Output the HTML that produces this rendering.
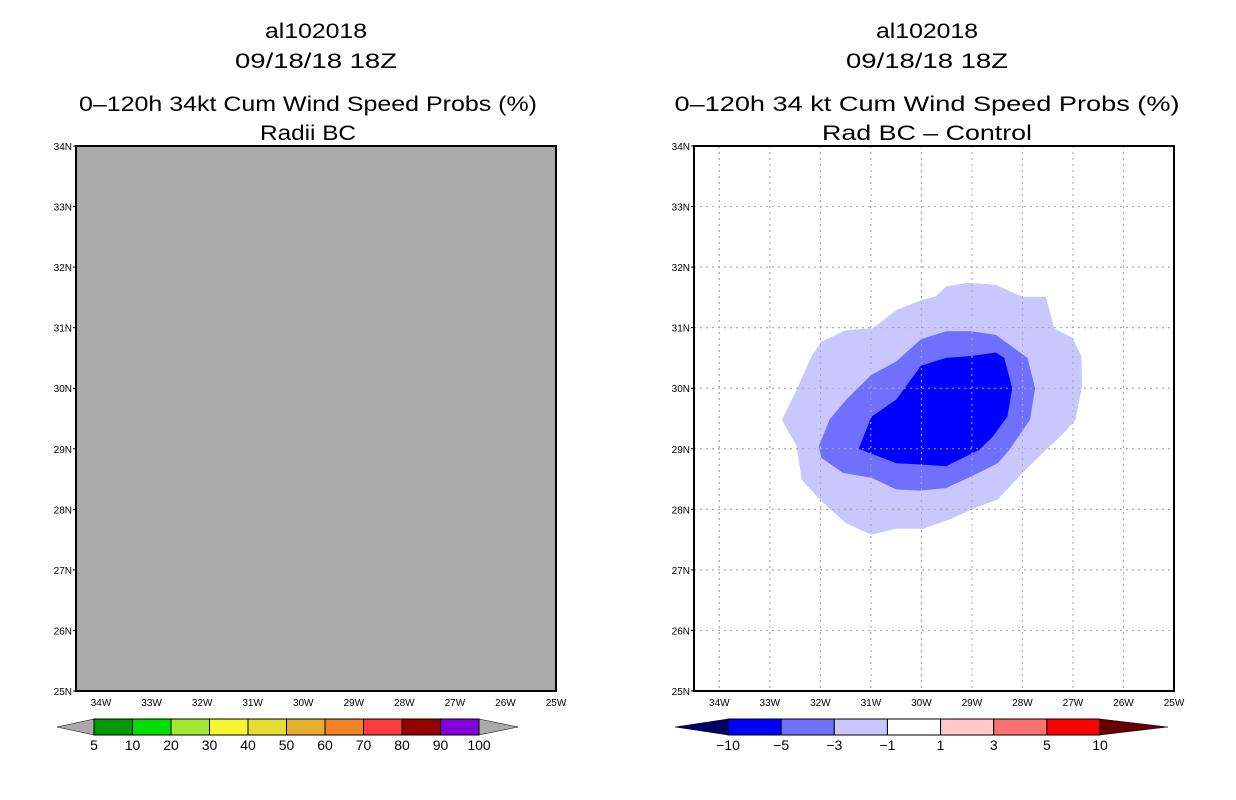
<!DOCTYPE html>
<html><head><meta charset="utf-8"><style>
html,body{margin:0;padding:0;background:#fff;}
svg{display:block;font-family:"Liberation Sans",sans-serif;}
</style></head><body>
<svg id="chart" width="1236" height="800" viewBox="0 0 1236 800">
<g font-size="21" text-anchor="middle" fill="#000">
<text x="316" y="38" textLength="102" lengthAdjust="spacingAndGlyphs">al102018</text>
<text x="316" y="68" textLength="162" lengthAdjust="spacingAndGlyphs">09/18/18 18Z</text>
<text x="308" y="111" textLength="458" lengthAdjust="spacingAndGlyphs">0–120h 34kt Cum Wind Speed Probs (%)</text>
<text x="308" y="140" textLength="96" lengthAdjust="spacingAndGlyphs">Radii BC</text>
</g>
<g font-size="21" text-anchor="middle" fill="#000">
<text x="927" y="38" textLength="102" lengthAdjust="spacingAndGlyphs">al102018</text>
<text x="927" y="68" textLength="162" lengthAdjust="spacingAndGlyphs">09/18/18 18Z</text>
<text x="927" y="111" textLength="505" lengthAdjust="spacingAndGlyphs">0–120h 34 kt Cum Wind Speed Probs (%)</text>
<text x="927" y="140" textLength="210" lengthAdjust="spacingAndGlyphs">Rad BC – Control</text>
</g>
<g id="left"></g>
<g id="right"></g>
<g id="cbL"></g>
<g id="cbR"></g>
</svg>
<script>
const latTicks=[34,33,32,31,30,29,28,27,26,25];
const lonTicks=[34,33,32,31,30,29,28,27,26,25];
const leftLevels=['5','10','20','30','40','50','60','70','80','90','100'];
const leftColors=['#009900','#00dd00','#a0e632','#f5f532','#e6dc32','#e6af2d','#f08228','#fa3c3c','#960000','#8200dc'];
const rightLevels=['−10','−5','−3','−1','1','3','5','10'];
const rightColors=['#0000ff','#7070ff','#c8c8ff','#ffffff','#ffc8c8','#ff7070','#ff0000'];
const outerLon=[32.76,32.47,32.18,31.98,31.49,30.96,30.50,29.97,29.71,29.51,29.09,28.53,28.00,27.54,27.37,27.01,26.83,26.82,26.95,27.18,27.54,28.00,28.49,28.86,29.45,29.97,30.50,30.99,31.49,32.01,32.37,32.47];
const outerLat=[29.48,29.97,30.52,30.77,30.96,30.99,31.29,31.46,31.52,31.68,31.74,31.71,31.51,31.51,30.99,30.83,30.52,30.03,29.48,29.26,28.98,28.60,28.16,28.05,27.83,27.68,27.68,27.58,27.77,28.16,28.49,29.04];
const midLon=[32.03,31.82,31.49,30.99,30.50,30.01,29.51,29.02,28.53,28.26,27.90,27.75,27.85,28.26,28.49,29.02,29.51,30.04,30.50,30.99,31.55,31.98];
const midLat=[29.04,29.48,29.81,30.22,30.44,30.81,30.94,30.94,30.88,30.72,30.50,30.00,29.48,28.98,28.76,28.54,28.35,28.31,28.33,28.52,28.60,28.85];
const innerLon=[31.24,30.99,30.50,30.01,29.51,29.02,28.53,28.36,28.20,28.30,28.59,28.86,29.51,30.01,30.50];
const innerLat=[29.00,29.53,29.81,30.37,30.50,30.53,30.59,30.50,30.00,29.53,29.20,28.98,28.71,28.74,28.76];

const NS='http://www.w3.org/2000/svg';
function mk(tag,attrs,parent){const e=document.createElementNS(NS,tag);for(const k in attrs)e.setAttribute(k,attrs[k]);parent.appendChild(e);return e;}
const Y0=146,Y1=691;
function yScale(lat){return Y0+(34-lat)*(Y1-Y0)/9;}
function makeX(x34,x25){return lon=>x34+(34-lon)*(x25-x34)/9;}

function panel(g,left,right,x34,fill,grid){
  const xs=makeX(x34,right);
  const bg=mk('rect',{x:left,y:Y0,width:right-left,height:Y1-Y0,fill:fill},g);
  
  
  if(grid){
    latTicks.forEach(l=>{if(l===34||l===25)return;const ln=mk('line',{x1:left,x2:right,y1:yScale(l),y2:yScale(l),stroke:'#aaa','stroke-dasharray':'2,4'},g);
      
      });
    lonTicks.forEach(l=>{if(l===25)return;const ln=mk('line',{x1:xs(l),x2:xs(l),y1:Y0,y2:Y1,stroke:'#aaa','stroke-dasharray':'2,4'},g);
      
      });
  }
  latTicks.forEach(l=>{const t=mk('text',{x:left-4,y:yScale(l)+4,'font-size':10,'text-anchor':'end'},g);t.textContent=l+'N';
    
    
    mk('line',{x1:left-3,x2:left,y1:yScale(l),y2:yScale(l),stroke:'#000'},g);});
  lonTicks.forEach(l=>{const t=mk('text',{x:xs(l),y:706,'font-size':10,'text-anchor':'middle'},g);t.textContent=l+'W';
    
    });
  return xs;
}
const gl=document.getElementById('left'),gr=document.getElementById('right');
panel(gl,76,556,101,'#aaaaaa',false);
const xr=panel(gr,694,1174,719.3,'#ffffff',true);
function poly(lons,lats,color,name){
  const pts=lons.map((lo,i)=>xr(lo).toFixed(1)+','+yScale(lats[i]).toFixed(1)).join(' ');
  const p=mk('polygon',{points:pts,fill:color},gr);
  
  
}
poly(outerLon,outerLat,'#c8c8ff','contour-minus1');
poly(midLon,midLat,'#7070ff','contour-minus3');
poly(innerLon,innerLat,'#0000ff','contour-minus5');
// redraw grid over fills
latTicks.forEach(l=>{if(l===34||l===25)return;const ln=mk('line',{x1:694,x2:1174,y1:yScale(l),y2:yScale(l),stroke:'#aaa','stroke-dasharray':'2,4'},gr);
  
  });
lonTicks.forEach(l=>{if(l===25)return;const ln=mk('line',{x1:xr(l),x2:xr(l),y1:Y0,y2:Y1,stroke:'#aaa','stroke-dasharray':'2,4'},gr);
  
  });
[[gl,76,556],[gr,694,1174]].forEach(([g,a,b])=>{const r=mk('rect',{x:a,y:Y0,width:b-a,height:Y1-Y0,fill:'none',stroke:'#000','stroke-width':2},g);
  
  });

function colorbar(g,tipL,x0,x1,tipR,colors,labels,lowC,highC){
  const y0=719,y1=735,ym=727,w=(x1-x0)/colors.length;
  const a=mk('polygon',{points:`${tipL},${ym} ${x0},${y0} ${x0},${y1}`,fill:lowC,stroke:'#000','stroke-width':0.5},g);
  
  
  const b=mk('polygon',{points:`${tipR},${ym} ${x1},${y0} ${x1},${y1}`,fill:highC,stroke:'#000','stroke-width':0.5},g);
  
  
  colors.forEach((c,i)=>{const r=mk('rect',{x:x0+i*w,y:y0,width:w,height:y1-y0,fill:c,stroke:'#000','stroke-width':1},g);
    
    });
  labels.forEach((s,i)=>{const t=mk('text',{x:x0+i*w,y:750,'font-size':14,'text-anchor':'middle'},g);t.textContent=s;
    
    });
}
colorbar(document.getElementById('cbL'),57,94,479,518,leftColors,leftLevels,'#aaaaaa','#aaaaaa');
colorbar(document.getElementById('cbR'),675,728,1100,1168,rightColors,rightLevels,'#000064','#640000');
</script>
</body></html>
